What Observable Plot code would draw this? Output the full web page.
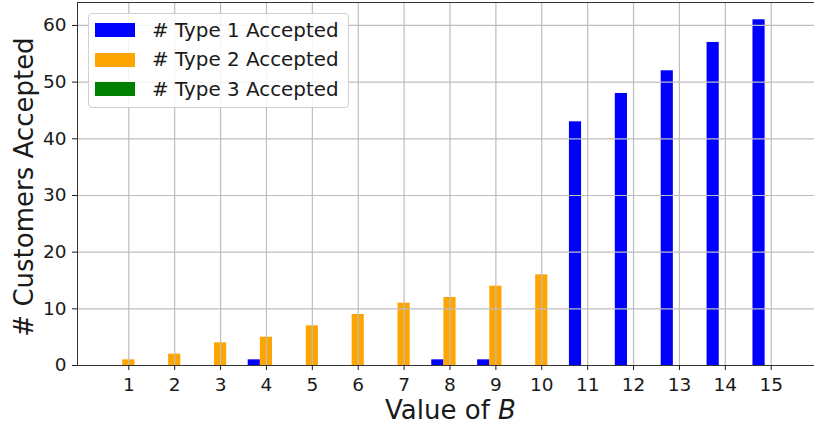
<!DOCTYPE html>
<html>
<head>
<meta charset="utf-8">
<script src="https://cdn.jsdelivr.net/npm/d3@7"></script>
<script src="https://cdn.jsdelivr.net/npm/@observablehq/plot@0.6"></script>
<style>
  html, body { margin: 0; padding: 0; background: white; }
  #wrap { position: relative; width: 814px; height: 424px; font-family: "DejaVu Sans", sans-serif; }
  .legend { position: absolute; left: 88px; top: 13px; width: 259px; height: 93px;
    border: 1px solid #d0d0d0; border-radius: 4px; background: rgba(255,255,255,0.85); }
  .legend .row { position: absolute; left: 6px; height: 30px; display: flex; align-items: center; }
  .legend .sw { width: 40px; height: 14px; }
  .legend .lab { margin-left: 17px; font-size: 19.9px; color: #1a1a1a; white-space: nowrap; }
</style>
</head>
<body>
<div id="wrap"></div>
<script>
// ---- data ----
const B = [1, 2, 3, 4, 5, 6, 7, 8, 9, 10, 11, 12, 13, 14, 15];
const type1Accepted = [0, 0, 0, 1, 0, 0, 0, 1, 1, 0, 43, 48, 52, 57, 61];
const type2Accepted = [1, 2, 4, 5, 7, 9, 11, 12, 14, 16, 0, 0, 0, 0, 0];
const type3Accepted = [0, 0, 0, 0, 0, 0, 0, 0, 0, 0, 0, 0, 0, 0, 0];
const seriesNames = ["# Type 1 Accepted", "# Type 2 Accepted", "# Type 3 Accepted"];
const seriesColors = ["blue", "orange", "green"];
const xTicks = B;
const yTicks = [0, 10, 20, 30, 40, 50, 60];
const xLabel = "Value of B";
const yLabel = "# Customers Accepted";

// ---- layout ----
const barW = 0.265;
const offsets = [-barW, 0, barW];
const xDomain = [-0.118, 16.118];
const yDomain = [0, 64.05];

const seriesValues = [type1Accepted, type2Accepted, type3Accepted];
const rows = [];
seriesValues.forEach((vals, s) => {
  vals.forEach((v, i) => rows.push({B: B[i], value: v, series: seriesNames[s], off: offsets[s]}));
});

const gridStyle = {stroke: "#bdbdbd", strokeOpacity: 1, strokeWidth: 1.2};
const spine = {stroke: "#333", strokeWidth: 1};

const chart = Plot.plot({
  width: 814,
  height: 424,
  marginLeft: 77,
  marginRight: 0,
  marginTop: 2,
  marginBottom: 59,
  style: {fontFamily: "DejaVu Sans", fontSize: "18px", color: "#1a1a1a", background: "white"},
  x: {domain: xDomain, range: [77, 822]},
  y: {domain: yDomain},
  color: {type: "ordinal", domain: seriesNames, range: seriesColors},
  marks: [
    Plot.rectY(rows, {
      x1: d => d.B + d.off - barW / 2,
      x2: d => d.B + d.off + barW / 2,
      y1: 0,
      y2: "value",
      fill: "series"
    }),
    Plot.gridX(xTicks, gridStyle),
    Plot.gridY(yTicks, gridStyle),
    Plot.ruleY([yDomain[0]], spine),
    Plot.ruleY([yDomain[1]], spine),
    Plot.ruleX([xDomain[0]], spine),
    Plot.ruleX([xDomain[1]], spine),
    Plot.axisX(xTicks, {tickSize: 5, tickPadding: 7, fontSize: 18.5, label: null}),
    Plot.axisY(yTicks, {tickSize: 5, tickPadding: 6, fontSize: 18.5, label: null}),
    Plot.text([xLabel], {frameAnchor: "bottom", textAnchor: "middle", lineAnchor: "bottom", dx: 4.5, dy: 53, fontSize: 26, fill: "#1a1a1a"}),
    Plot.text([yLabel], {frameAnchor: "left", textAnchor: "middle", lineAnchor: "bottom", rotate: -90, dx: -45, dy: 3, fontSize: 26, fill: "#1a1a1a"})
  ]
});

// italic B in x label (mathtext style)
d3.select(chart).selectAll("text").each(function() {
  if (this.textContent === xLabel) {
    const parts = xLabel.split(" ");
    const last = parts.pop();
    const sel = d3.select(this);
    sel.text(parts.join(" ") + " ");
    sel.append("tspan").attr("font-style", "italic").text(last);
  }
});

const wrap = document.getElementById("wrap");
wrap.appendChild(chart);

// legend (HTML overlay)
const legend = document.createElement("div");
legend.className = "legend";
seriesNames.forEach((name, i) => {
  const row = document.createElement("div");
  row.className = "row";
  row.style.top = (1 + i * 29.7) + "px";
  const sw = document.createElement("div");
  sw.className = "sw";
  sw.style.background = seriesColors[i];
  const lab = document.createElement("span");
  lab.className = "lab";
  lab.textContent = name;
  row.appendChild(sw);
  row.appendChild(lab);
  legend.appendChild(row);
});
wrap.appendChild(legend);
</script>
</body>
</html>
